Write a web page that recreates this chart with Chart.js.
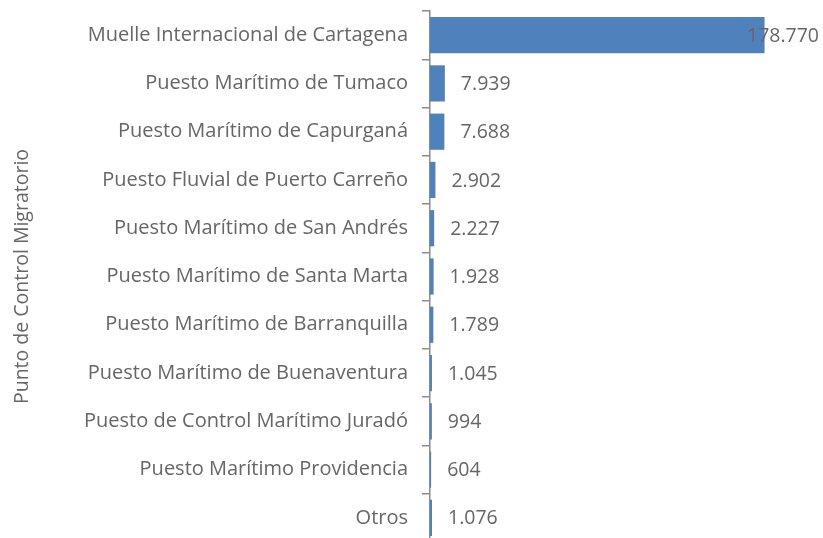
<!DOCTYPE html>
<html>
<head>
<meta charset="utf-8">
<script src="https://cdn.jsdelivr.net/npm/chart.js@4"></script>
<style>
  html, body { margin: 0; padding: 0; background: #fff; overflow: hidden; }
  #wrap { width: 823px; height: 542px; }
</style>
</head>
<body>
<div id="wrap"><canvas id="chart" width="823" height="542"></canvas></div>
<script>
// categories top to bottom
const puntos = [
  "Muelle Internacional de Cartagena",
  "Puesto Marítimo de Tumaco",
  "Puesto Marítimo de Capurganá",
  "Puesto Fluvial de Puerto Carreño",
  "Puesto Marítimo de San Andrés",
  "Puesto Marítimo de Santa Marta",
  "Puesto Marítimo de Barranquilla",
  "Puesto Marítimo de Buenaventura",
  "Puesto de Control Marítimo Juradó",
  "Puesto Marítimo Providencia",
  "Otros"
];
const viajeros = [178770, 7939, 7688, 2902, 2227, 1928, 1789, 1045, 994, 604, 1076];
const axisTitle = "Punto de Control Migratorio";

const gray = "#666666";
const fontFam = "'Open Sans', 'Noto Sans', sans-serif";

// formats numbers with a dot as thousands separator
function fmt(n) {
  return String(n).replace(/\B(?=(\d{3})+(?!\d))/g, ".");
}

// draws the value labels next to every bar
const valueLabels = {
  id: "valueLabels",
  afterDatasetsDraw(chart) {
    const ctx = chart.ctx;
    const area = chart.chartArea;
    const meta = chart.getDatasetMeta(0);
    ctx.save();
    ctx.font = "19.5px " + fontFam;
    ctx.fillStyle = gray;
    ctx.textBaseline = "middle";
    meta.data.forEach((bar, i) => {
      const txt = fmt(viajeros[i]);
      const w = ctx.measureText(txt).width;
      let x = bar.x + 16;
      if (x + w > area.right - 4) x = area.right - 4 - w;
      ctx.fillText(txt, x, bar.y + 1);
    });
    ctx.restore();
  }
};

new Chart(document.getElementById("chart"), {
  type: "bar",
  data: {
    labels: puntos,
    datasets: [{
      data: viajeros,
      backgroundColor: "#4F81BD",
      categoryPercentage: 0.75,
      barPercentage: 1
    }]
  },
  options: {
    indexAxis: "y",
    responsive: false,
    animation: false,
    devicePixelRatio: 1,
    layout: { padding: { top: 11, right: 0, bottom: 0, left: 0 } },
    plugins: {
      legend: { display: false },
      tooltip: { enabled: false }
    },
    scales: {
      x: {
        display: false,
        min: 0,
        max: 210000
      },
      y: {
        afterFit(scale) {
          scale.width = 430;
          scale.paddingTop = 0;
          scale.paddingBottom = 0;
        },
        grid: {
          offset: true,
          drawOnChartArea: false,
          drawTicks: true,
          tickLength: 8,
          color: "#8c8c8c",
          lineWidth: 1.5
        },
        border: { display: true, color: "#8c8c8c", width: 1.5 },
        ticks: {
          color: gray,
          padding: 14,
          font: { family: fontFam, size: 20 }
        },
        title: {
          display: true,
          text: axisTitle,
          color: gray,
          padding: { top: 11, bottom: 0 },
          font: { family: fontFam, size: 19.5 }
        }
      }
    }
  },
  plugins: [valueLabels]
});
</script>
</body>
</html>
